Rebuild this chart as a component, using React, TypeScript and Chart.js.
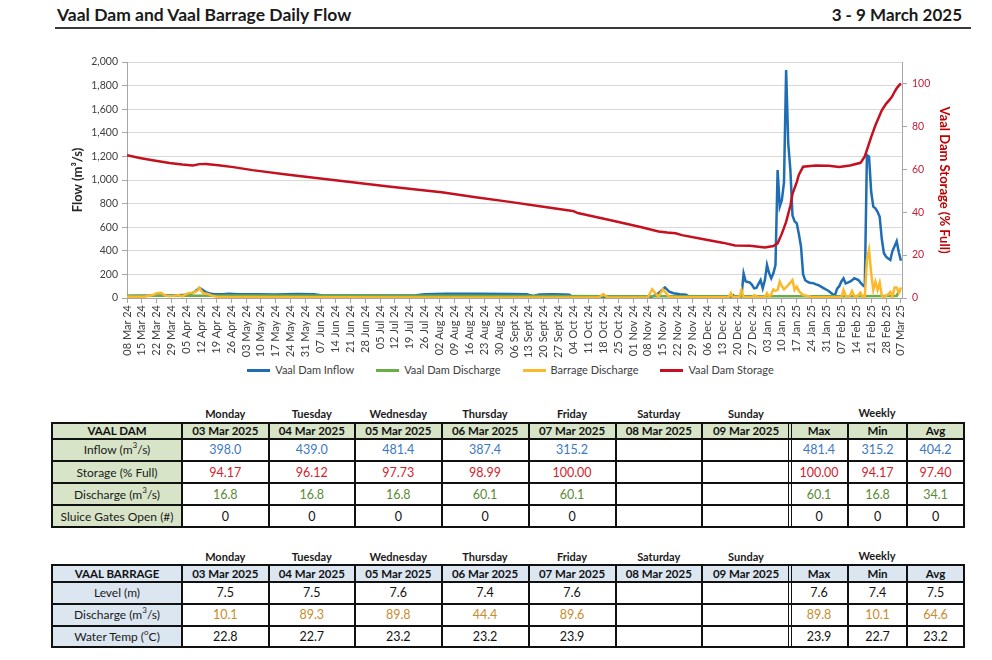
import React, { useEffect, useRef } from 'react';
import { Chart, registerables } from 'chart.js';

Chart.register(...registerables);

// ---------- chart data (day offset from 08 Mar 2024, value) ----------
const tickLabels = [
  '08 Mar 24', '15 Mar 24', '22 Mar 24', '29 Mar 24', '05 Apr 24', '12 Apr 24', '19 Apr 24', '26 Apr 24',
  '03 May 24', '10 May 24', '17 May 24', '24 May 24', '31 May 24', '07 Jun 24', '14 Jun 24', '21 Jun 24',
  '28 Jun 24', '05 Jul 24', '12 Jul 24', '19 Jul 24', '26 Jul 24', '02 Aug 24', '09 Aug 24', '16 Aug 24',
  '23 Aug 24', '30 Aug 24', '06 Sept 24', '13 Sept 24', '20 Sept 24', '27 Sept 24', '04 Oct 24', '11 Oct 24',
  '18 Oct 24', '25 Oct 24', '01 Nov 24', '08 Nov 24', '15 Nov 24', '22 Nov 24', '29 Nov 24', '06 Dec 24',
  '13 Dec 24', '20 Dec 24', '27 Dec 24', '03 Jan 25', '10 Jan 25', '17 Jan 25', '24 Jan 25', '31 Jan 25',
  '07 Feb 25', '14 Feb 25', '21 Feb 25', '28 Feb 25', '07 Mar 25',
];

const storageTicks = [0, 20, 40, 60, 80, 100];

const seriesNames = ['Vaal Dam Inflow', 'Vaal Dam Discharge', 'Barrage Discharge', 'Vaal Dam Storage'];

const inflow: [number, number][] = [
  [0, 18], [6, 20], [12, 20], [18, 22], [24, 24], [28, 28], [30, 34], [32, 55], [34, 85], [35, 75],
  [37, 50], [39, 38], [41, 31], [45, 32], [48, 36], [52, 31], [60, 32], [70, 30], [80, 33], [88, 31],
  [92, 22], [110, 21], [125, 22], [136, 23], [140, 31], [150, 35], [165, 36], [180, 34], [188, 32],
  [191, 18], [194, 30], [200, 31], [206, 29], [208, 28], [210, 5], [223, 4], [224, 0], [226, 4],
  [246, 5], [248, 20], [250, 40], [253, 90], [255, 54], [257, 40], [260, 31], [263, 28], [265, 4],
  [282, 3], [284, 8], [285, 25], [286, 10], [287, 5], [288, 8], [289, 15], [290, 209], [291, 140],
  [292, 135], [293, 130], [294, 110], [295, 82], [296, 85], [297, 120], [298, 152], [299, 82],
  [300, 150], [301, 280], [302, 210], [303, 167], [304, 209], [305, 280], [306, 1085], [307, 774],
  [308, 830], [309, 980], [310, 1932], [311, 1311], [312, 1085], [313, 700], [314, 650], [315, 633],
  [316, 540], [317, 435], [318, 200], [319, 150], [320, 138], [321, 130], [322, 128], [323, 124],
  [324, 115], [325, 110], [326, 100], [327, 90], [328, 80], [329, 70], [330, 60], [331, 45], [332, 30],
  [333, 25], [334, 80], [335, 100], [336, 140], [337, 167], [338, 124], [339, 130], [340, 138],
  [341, 150], [342, 167], [343, 160], [344, 152], [345, 130], [346, 110], [347, 96], [348, 1212],
  [349, 1198], [350, 900], [351, 774], [352, 760], [353, 730], [354, 689], [355, 500], [356, 379],
  [357, 350], [358, 335], [359, 322], [360, 398], [361, 439], [362, 481.4], [363, 387.4], [364, 315.2],
];

const damDischargeSeries: [number, number][] = [
  [0, 20], [30, 20], [60, 21], [100, 20], [150, 20], [200, 18], [230, 15], [260, 14], [300, 14],
  [340, 15], [359, 16.8], [360, 16.8], [361, 16.8], [362, 16.8], [363, 60.1], [364, 60.1],
];

const barrageDischargeSeries: [number, number][] = [
  [0, 10], [8, 10], [12, 25], [14, 40], [16, 45], [18, 20], [20, 15], [22, 18], [24, 25], [26, 14],
  [28, 35], [29, 40], [31, 45], [33, 60], [34, 87], [35, 60], [36, 40], [38, 34], [40, 20], [42, 11],
  [50, 8], [100, 6], [150, 5], [200, 5], [222, 5], [224, 34], [226, 5], [245, 6], [247, 74], [249, 30],
  [250, 11], [252, 74], [254, 30], [255, 11], [260, 6], [283, 6], [284, 40], [285, 6], [288, 6],
  [289, 68], [290, 6], [294, 6], [295, 25], [297, 6], [300, 10], [301, 40], [302, 10], [303, 30],
  [304, 73], [305, 60], [306, 68], [307, 138], [308, 100], [309, 73], [310, 90], [311, 110], [312, 130],
  [313, 152], [314, 68], [315, 96], [316, 60], [317, 40], [318, 25], [320, 17], [322, 8], [330, 6],
  [336, 6], [337, 68], [338, 20], [339, 10], [340, 20], [341, 60], [342, 20], [343, 6], [345, 45],
  [346, 10], [347, 6], [348, 322], [349, 407], [350, 209], [351, 68], [352, 138], [353, 68], [354, 130],
  [355, 20], [356, 6], [357, 20], [358, 30], [359, 50], [360, 10.1], [361, 89.3], [362, 89.8],
  [363, 44.4], [364, 89.6],
];

const storage: [number, number][] = [
  [0, 66.5], [6, 65.3], [12, 64.2], [20, 62.9], [26, 62.2], [31, 61.8], [34, 62.4], [37, 62.5],
  [43, 61.9], [50, 61.0], [59, 59.6], [75, 57.6], [90, 55.8], [106, 53.9], [122, 52.1], [137, 50.5],
  [148, 49.3], [164, 47.0], [180, 44.8], [195, 42.6], [208, 40.8], [210, 40.5], [212, 39.6],
  [227, 36.4], [242, 33.0], [250, 31.0], [254, 30.5], [258, 30.2], [261, 29.3], [270, 27.6],
  [280, 25.8], [286, 24.5], [293, 24.4], [300, 23.6], [304, 24.2], [306, 25.5], [308, 30],
  [310, 35.5], [312, 43], [313, 48.5], [315, 54], [316, 57.5], [318, 61.2], [324, 61.8], [330, 61.6],
  [335, 61.1], [340, 61.8], [345, 63.0], [347, 66], [350, 75], [352, 80.5], [355, 87.5], [357, 90.5],
  [359, 92.8], [360, 94.17], [361, 96.12], [362, 97.73], [363, 98.99], [364, 100],
];

// ---------- table data ----------
const weekDays = ['Monday', 'Tuesday', 'Wednesday', 'Thursday', 'Friday', 'Saturday', 'Sunday'];
const weekDates = ['03 Mar 2025', '04 Mar 2025', '05 Mar 2025', '06 Mar 2025', '07 Mar 2025', '08 Mar 2025', '09 Mar 2025'];
const weeklyHeads = ['Max', 'Min', 'Avg'];

const damInflow = [398.0, 439.0, 481.4, 387.4, 315.2];
const damInflowWeekly = [481.4, 315.2, 404.2];
const damStorage = [94.17, 96.12, 97.73, 98.99, 100.0];
const damStorageWeekly = [100.0, 94.17, 97.4];
const damDischarge = [16.8, 16.8, 16.8, 60.1, 60.1];
const damDischargeWeekly = [60.1, 16.8, 34.1];
const damSluice = [0, 0, 0, 0, 0];
const damSluiceWeekly = [0, 0, 0];

const barLevel = [7.5, 7.5, 7.6, 7.4, 7.6];
const barLevelWeekly = [7.6, 7.4, 7.5];
const barDischarge = [10.1, 89.3, 89.8, 44.4, 89.6];
const barDischargeWeekly = [89.8, 10.1, 64.6];
const barTemp = [22.8, 22.7, 23.2, 23.2, 23.9];
const barTempWeekly = [23.9, 22.7, 23.2];

const BLUE = '#1f6db3';
const GREEN = '#6aad48';
const ORANGE = '#fbb829';
const RED = '#c5101f';
const COLORS = [BLUE, GREEN, ORANGE, RED];
const AXIS = '#a6a6a6';
const FONT = 'Lato, "Noto Sans", sans-serif';

const colX = [52, 182, 268.5, 355, 441.5, 528.5, 615.5, 702, 790, 848, 907, 964];

type Row = { label: React.ReactNode; values: number[]; weekly: number[]; digits: number; color: string };

function DataTable(props: {
  headTop: number;
  rowsY: number[];
  title: string;
  bg: string;
  rows: Row[];
}) {
  const { headTop, rowsY, title, bg, rows } = props;
  const els: React.ReactNode[] = [];
  const cellStyle = (c: number, r: number): React.CSSProperties => ({
    position: 'absolute',
    left: colX[c],
    top: rowsY[r],
    width: colX[c + 1] - colX[c],
    height: rowsY[r + 1] - rowsY[r],
    display: 'flex',
    alignItems: 'center',
    justifyContent: 'center',
    whiteSpace: 'nowrap',
  });
  weekDays.forEach((d, i) => {
    els.push(
      <div key={'d' + i} style={{ position: 'absolute', left: colX[i + 1], width: colX[i + 2] - colX[i + 1], top: headTop, height: 16, lineHeight: '16px', textAlign: 'center', fontSize: 11, fontWeight: 700, color: '#1a1a1a' }}>{d}</div>
    );
  });
  els.push(
    <div key="wk" style={{ position: 'absolute', left: colX[8], width: colX[11] - colX[8], top: headTop - 1, height: 16, lineHeight: '16px', textAlign: 'center', fontSize: 11, fontWeight: 700, color: '#1a1a1a' }}>Weekly</div>
  );
  for (let c = 0; c < 11; c++) {
    const text = c === 0 ? title : c <= 7 ? weekDates[c - 1] : weeklyHeads[c - 8];
    els.push(
      <div key={'h' + c} style={{ ...cellStyle(c, 0), background: bg, fontWeight: 700, fontSize: 11.5, color: '#111' }}>{text}</div>
    );
  }
  rows.forEach((row, ri) => {
    const r = ri + 1;
    els.push(
      <div key={'l' + r} style={{ ...cellStyle(0, r), background: bg, fontSize: 12, color: '#1a1a1a' }}>{row.label}</div>
    );
    for (let c = 1; c < 11; c++) {
      const v: number | undefined = c <= 7 ? row.values[c - 1] : row.weekly[c - 8];
      els.push(
        <div key={'v' + r + '_' + c} style={{ ...cellStyle(c, r), background: '#fff', fontSize: 12.5, color: row.color }}>
          {v === undefined ? '' : v.toFixed(row.digits)}
        </div>
      );
    }
  });
  rowsY.forEach((y, i) => {
    els.push(
      <div key={'hl' + i} style={{ position: 'absolute', left: colX[0] - 1, top: y - 1, width: colX[11] - colX[0] + 2, height: 2, background: '#111' }} />
    );
  });
  const h = rowsY[rowsY.length - 1] - rowsY[0] + 2;
  colX.forEach((x, i) => {
    if (i === 8) {
      els.push(<div key={'vl' + i + 'a'} style={{ position: 'absolute', left: x - 2.5, top: rowsY[0] - 1, width: 1.2, height: h, background: '#111' }} />);
      els.push(<div key={'vl' + i + 'b'} style={{ position: 'absolute', left: x + 1, top: rowsY[0] - 1, width: 1.2, height: h, background: '#111' }} />);
    } else {
      els.push(<div key={'vl' + i} style={{ position: 'absolute', left: x - 1, top: rowsY[0] - 1, width: 2, height: h, background: '#111' }} />);
    }
  });
  return <>{els}</>;
}

const sup = (s: string) => <sup style={{ fontSize: 8, verticalAlign: 'top', lineHeight: '10px', position: 'relative', top: -2 }}>{s}</sup>;

export default function App() {
  const ref = useRef<HTMLCanvasElement>(null);

  useEffect(() => {
    if (!ref.current) return;
    Chart.defaults.font.family = FONT;
    const tickDays = tickLabels.map((_, i) => i * 7);
    const pts = (a: [number, number][]) => a.map(([x, y]) => ({ x, y }));
    const series = [inflow, damDischargeSeries, barrageDischargeSeries, storage];
    const chart = new Chart(ref.current, {
      type: 'line',
      data: {
        datasets: series.map((s, i) => ({
          label: seriesNames[i],
          data: pts(s),
          borderColor: COLORS[i],
          backgroundColor: COLORS[i],
          borderWidth: 2.5,
          pointRadius: 0,
          yAxisID: i === 3 ? 'y1' : 'y',
          order: 4 - i,
        })),
      },
      options: {
        animation: false,
        responsive: false,
        layout: { padding: { top: 17, left: 0, right: 0, bottom: 0 } },
        plugins: {
          tooltip: { enabled: false },
          legend: { display: false },
        },
        scales: {
          x: {
            type: 'linear',
            min: 0,
            max: 364.5,
            afterBuildTicks: (s: any) => {
              s.ticks = tickDays.map((v) => ({ value: v }));
            },
            afterFit: (s: any) => {
              s.height = 64;
            },
            ticks: {
              autoSkip: false,
              maxRotation: 90,
              minRotation: 90,
              padding: 2,
              color: '#404040',
              font: { family: FONT, size: 11 },
              callback: (v: any) => {
                const i = tickDays.indexOf(Number(v));
                return i >= 0 ? tickLabels[i] : '';
              },
            },
            grid: { drawOnChartArea: false, tickLength: 5, tickColor: AXIS },
            border: { color: AXIS },
          },
          y: {
            type: 'linear',
            position: 'left',
            min: 0,
            max: 2000,
            afterFit: (s: any) => {
              s.width = 77;
            },
            ticks: {
              stepSize: 200,
              padding: 4,
              color: '#404040',
              font: { family: FONT, size: 10.5 },
              callback: (v: any) => Number(v).toLocaleString('en-US'),
            },
            grid: { color: '#d9d9d9', tickColor: AXIS, tickLength: 5 },
            border: { color: AXIS },
            title: {
              display: true,
              text: 'Flow (m³/s)',
              color: '#262626',
              font: { family: FONT, size: 13, weight: 'bold' },
              padding: { top: 20, bottom: 0 },
            },
          },
          y1: {
            type: 'linear',
            position: 'right',
            min: 0,
            max: 110,
            afterBuildTicks: (s: any) => {
              s.ticks = storageTicks.map((v) => ({ value: v }));
            },
            afterFit: (s: any) => {
              s.width = 68;
            },
            ticks: {
              padding: 5,
              color: '#c0213a',
              font: { family: FONT, size: 10.5 },
            },
            grid: { drawOnChartArea: false, tickColor: AXIS, tickLength: 5 },
            border: { color: AXIS },
            title: {
              display: true,
              text: 'Vaal Dam Storage (% Full)',
              color: '#c00000',
              font: { family: FONT, size: 13, weight: 'bold' },
              padding: { top: 18, bottom: 0 },
            },
          },
        },
      } as any,
    });
    return () => chart.destroy();
  }, []);

  const damRows: Row[] = [
    { label: <span>Inflow (m{sup('3')}/s)</span>, values: damInflow, weekly: damInflowWeekly, digits: 1, color: '#3a78c2' },
    { label: <span>Storage (% Full)</span>, values: damStorage, weekly: damStorageWeekly, digits: 2, color: '#d41c2c' },
    { label: <span>Discharge (m{sup('3')}/s)</span>, values: damDischarge, weekly: damDischargeWeekly, digits: 1, color: '#5a8a32' },
    { label: <span>Sluice Gates Open (#)</span>, values: damSluice, weekly: damSluiceWeekly, digits: 0, color: '#111' },
  ];
  const barRows: Row[] = [
    { label: <span>Level (m)</span>, values: barLevel, weekly: barLevelWeekly, digits: 1, color: '#111' },
    { label: <span>Discharge (m{sup('3')}/s)</span>, values: barDischarge, weekly: barDischargeWeekly, digits: 1, color: '#c98b2a' },
    { label: <span>Water Temp ({sup('o')}C)</span>, values: barTemp, weekly: barTempWeekly, digits: 1, color: '#111' },
  ];

  return (
    <div style={{ position: 'absolute', left: 0, top: 0, width: 992, height: 660, background: '#fff', overflow: 'hidden', fontFamily: FONT, color: '#1a1a1a' }}>
      <div style={{ position: 'absolute', left: 57, top: 5, fontSize: 17.5, fontWeight: 700, lineHeight: '20px', whiteSpace: 'nowrap' }}>
        Vaal Dam and Vaal Barrage Daily Flow
      </div>
      <div style={{ position: 'absolute', right: 30, top: 5, fontSize: 17, fontWeight: 700, lineHeight: '20px', whiteSpace: 'nowrap' }}>
        3 - 9 March 2025
      </div>
      <div style={{ position: 'absolute', left: 55, top: 27, width: 916, height: 2, background: '#3a3a3a' }} />
      <canvas ref={ref} width={920} height={317} style={{ position: 'absolute', left: 50, top: 45, width: 920, height: 317 }} />
      <div style={{ position: 'absolute', left: 0, top: 362, width: 1021, height: 16, display: 'flex', justifyContent: 'center', alignItems: 'center', gap: 22 }}>
        {seriesNames.map((n, i) => (
          <div key={n} style={{ display: 'flex', alignItems: 'center', whiteSpace: 'nowrap' }}>
            <div style={{ width: 23, height: 3, background: COLORS[i], marginRight: 5 }} />
            <span style={{ fontSize: 11, color: '#404040', lineHeight: '16px' }}>{n}</span>
          </div>
        ))}
      </div>
      <DataTable headTop={406} rowsY={[422.5, 438.5, 461, 483, 505, 527]} title="VAAL DAM" bg="#d8e4c8" rows={damRows} />
      <DataTable headTop={549} rowsY={[565, 581.5, 603.5, 625.5, 647]} title="VAAL BARRAGE" bg="#dce6f1" rows={barRows} />
    </div>
  );
}
